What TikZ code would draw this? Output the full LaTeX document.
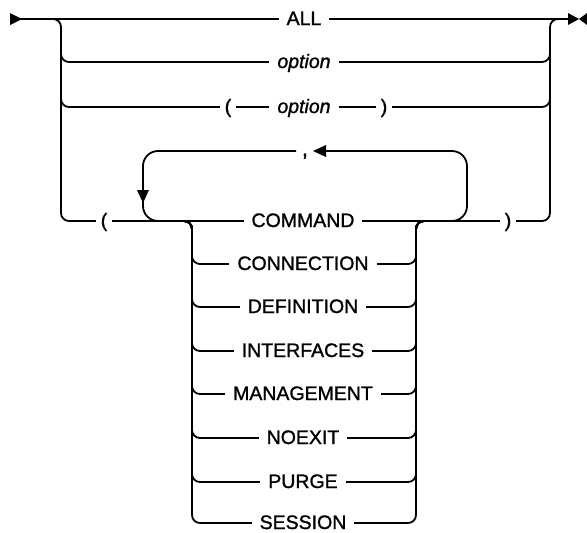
\documentclass[tikz,border=0pt]{standalone}
\usepackage{fontspec}
\setmainfont{Liberation Sans}[FakeBold=1.2]
\begin{document}
\begin{tikzpicture}[x=1pt,y=-1pt,
  rail/.style={line width=1.8pt,rounded corners=8pt},
  loop/.style={line width=1.8pt,rounded corners=15pt},
  lbl/.style={fill=white,inner xsep=8pt,inner ysep=0pt,anchor=base,
    font=\fontsize{19.5}{22}\selectfont},
  par/.style={lbl,inner xsep=5pt},
  tip/.style={fill=black}]
\useasboundingbox (0,0) rectangle (587,533);
% main line and end markers
\draw[line width=1.8pt] (20,19) -- (568,19);
\fill[tip] (10,13) -- (22,19) -- (10,25) -- cycle;
\fill[tip] (568,13) -- (579,19) -- (568,25) -- cycle;
\fill[tip] (587,13) -- (579,19) -- (587,25) -- cycle;
% outer branches
\draw[rail] (45,19) -- (61,19) -- (61,62) -- (550,62) -- (550,19) -- (565,19);
\draw[rail] (61,50) -- (61,107) -- (550,107) -- (550,50);
\draw[rail] (61,100) -- (61,221) -- (550,221) -- (550,100);
% choice stack
\foreach \yy in {264,307,351,394,438,482,523}{
  \draw[rail] (176,221) -- (192,221) -- (192,\yy) -- (416,\yy) -- (416,221) -- (432,221);
}
% repeat loop
\draw[loop] (440,221) -- (467,221) -- (467,151) -- (326,151);
\draw[loop] (296,151) -- (143,151) -- (143,221) -- (175,221);
\fill[tip] (326,145) -- (313,151) -- (326,157) -- cycle;
\fill[tip] (137,190) -- (143,203) -- (149,190) -- cycle;
\node[lbl,inner xsep=2pt,font=\fontsize{22}{24}\selectfont] (comma) at (305,156) {,};
% labels
\node[lbl] (all) at (304,25) {ALL};
\node[lbl] (opt1) at (304,68) {\itshape option};
\node[par] (lp1) at (228,113) {(};
\node[lbl] (opt2) at (304,113) {\itshape option};
\node[par] (rp1) at (384,113) {)};
\node[par] (lp2) at (104,227) {(};
\node[par] (rp2) at (508,227) {)};
\node[lbl] (c1) at (303,227) {COMMAND};
\node[lbl] (c2) at (303,270) {CONNECTION};
\node[lbl] (c3) at (303,313) {DEFINITION};
\node[lbl] (c4) at (303,357) {INTERFACES};
\node[lbl] (c5) at (303,400) {MANAGEMENT};
\node[lbl] (c6) at (303,444) {NOEXIT};
\node[lbl] (c7) at (303,488) {PURGE};
\node[lbl] (c8) at (303,529) {SESSION};
\end{tikzpicture}
\end{document}
